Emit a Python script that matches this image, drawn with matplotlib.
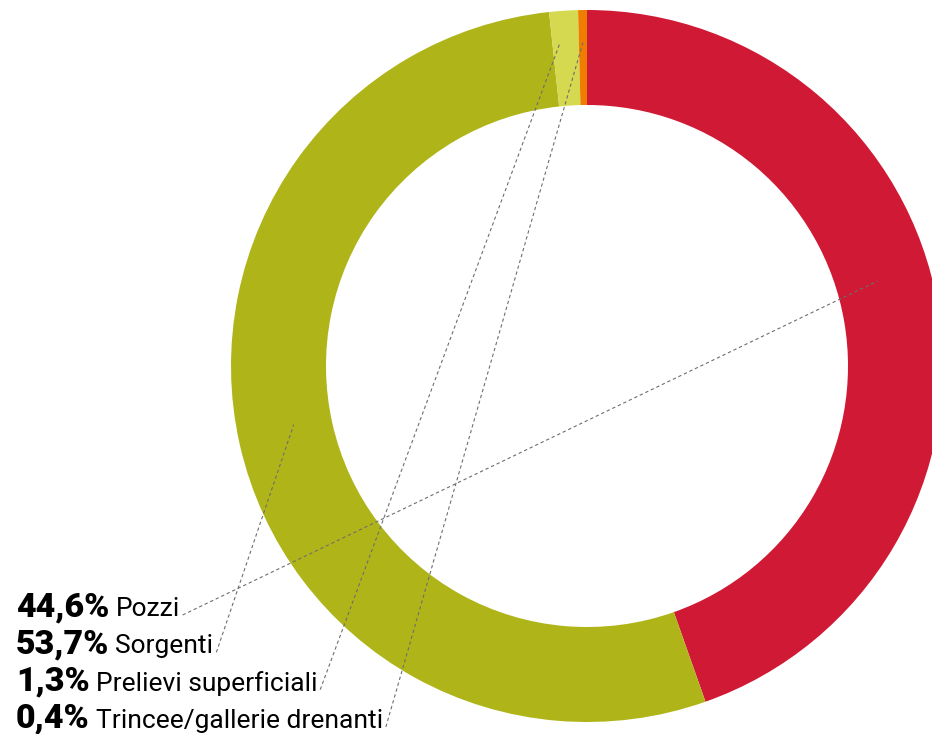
import numpy as np
import matplotlib
matplotlib.use("Agg")
import matplotlib.pyplot as plt

# dati
categorie = ["Pozzi", "Sorgenti", "Prelievi superficiali", "Trincee/gallerie drenanti"]
percentuali = [44.6, 53.7, 1.3, 0.4]
etichette_pct = ["44,6%", "53,7%", "1,3%", "0,4%"]
colori = ["#D01935", "#AFB519", "#D5D94F", "#EF7D00"]

# punto di aggancio delle linee guida (angolo in gradi, frazione del raggio)
ancore = [(16.3, 0.85), (191.3, 0.84), (94.8, 0.91), (90.7, 0.91)]

W, H = 932, 734
CX, CY = 587, H - 366
R_EST, R_INT = 356, 261

fig = plt.figure(figsize=(W / 100, H / 100), dpi=100)
ax = fig.add_axes([0, 0, 1, 1])

ax.pie(percentuali, colors=colori, startangle=90, counterclock=False,
       center=(CX, CY), radius=R_EST,
       wedgeprops=dict(width=R_EST - R_INT, linewidth=0), frame=True)
ax.set_xlim(0, W)
ax.set_ylim(0, H)
ax.axis("off")

renderer = fig.canvas.get_renderer()
x0 = 16
baseline0 = H - 616
passo = 37.3
for i, (pct, nome) in enumerate(zip(etichette_pct, categorie)):
    yb = baseline0 - i * passo
    t1 = ax.text(x0, yb, pct, fontsize=24.5, fontweight="black", family="Roboto",
                 color="#000000", va="baseline", ha="left")
    bb = t1.get_window_extent(renderer)
    t2 = ax.text(bb.x1 + 6, yb, nome, fontsize=19, family="Roboto",
                 color="#000000", va="baseline", ha="left")
    bb2 = t2.get_window_extent(renderer)
    ang, frac = ancore[i]
    px = CX + frac * R_EST * np.cos(np.radians(ang))
    py = CY + frac * R_EST * np.sin(np.radians(ang))
    ax.plot([bb2.x1 + 3, px], [yb + 1, py], color="#6e6e6e", linewidth=0.8,
            linestyle=(0, (3, 2.5)))

fig.savefig("out.png", dpi=100)
